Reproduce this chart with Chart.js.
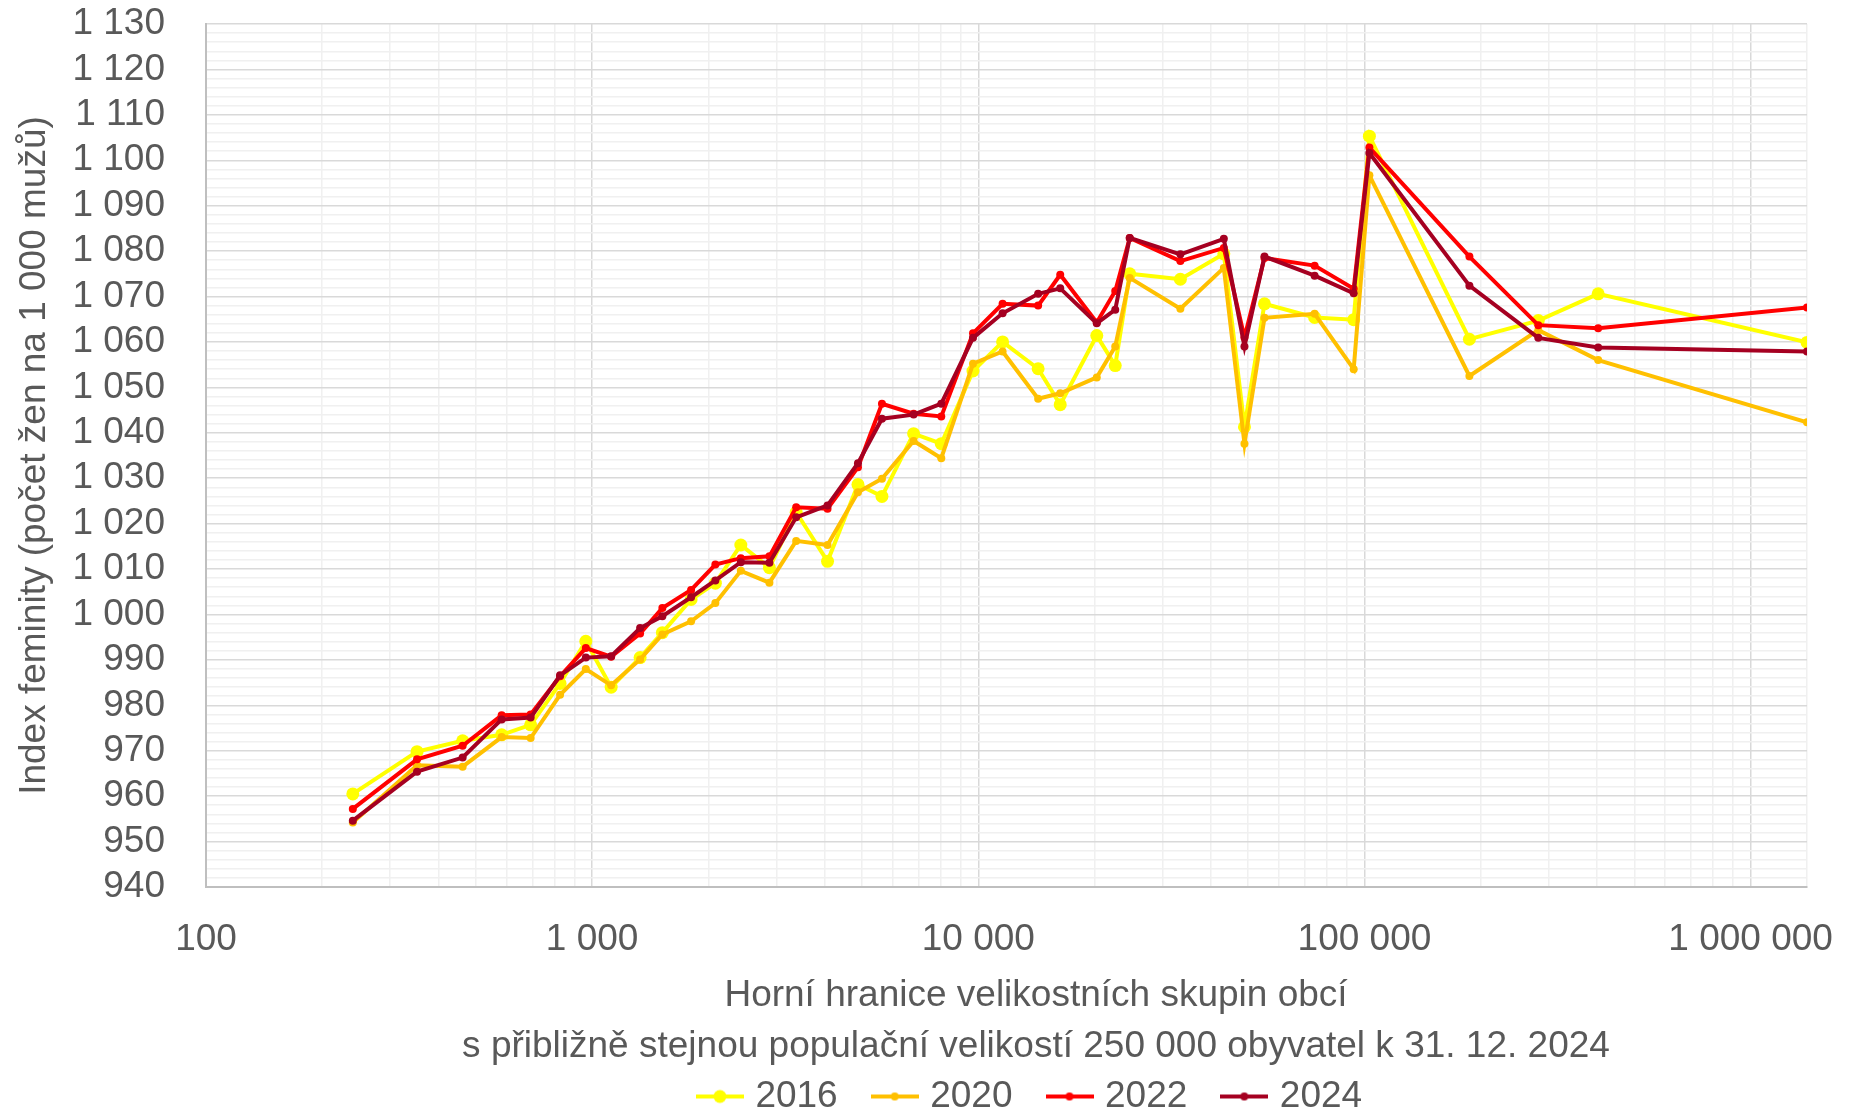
<!DOCTYPE html>
<html lang="cs">
<head>
    <meta charset="UTF-8">
    <title>Index feminity podle velikosti obcí</title>
    <script src="https://cdn.jsdelivr.net/npm/chart.js"></script>
    <style>
        body { margin: 0; background: #fff; }
        .chart-box { width: 1849px; height: 1115px; }
    </style>
</head>
<body>
    <div class="chart-box">
        <canvas id="chartFeminita"></canvas>
    </div>

    <script>
        // Horní hranice velikostních skupin obcí (osa x, logaritmická)
        const sizeLimits = [
            240, 352, 462, 583, 693, 826, 963, 1120, 1331, 1520,
            1804, 2085, 2427, 2878, 3376, 4070, 4880, 5630, 6800, 8020,
            9690, 11560, 14290, 16300, 20270, 22630, 24670, 33370, 43240, 48900,
            55100, 74300, 93800, 103000, 187000, 282000, 403000, 1400000
        ];

        // Index feminity (počet žen na 1 000 mužů)
        const values2016 = [
            960.5, 969.8, 972.2, 973.5, 975.7, 984.8, 994.1, 984.0, 990.5, 996.0,
            1003.3, 1006.9, 1015.3, 1010.3, 1022.5, 1011.7, 1028.6, 1026.0, 1039.8, 1037.6,
            1053.6, 1060.0, 1054.1, 1046.2, 1061.4, 1054.8, 1075.0, 1073.8, 1079.4, 1041.3,
            1068.4, 1065.4, 1064.9, 1105.3, 1060.6, 1064.7, 1070.6, 1059.9
        ];
        const values2020 = [
            954.2, 966.8, 966.5, 973.0, 972.8, 982.3, 988.0, 984.4, 990.1, 995.6,
            998.5, 1002.5, 1009.6, 1007.0, 1016.2, 1015.3, 1026.9, 1029.9, 1038.2, 1034.4,
            1055.2, 1057.9, 1047.5, 1048.7, 1052.2, 1059.0, 1074.1, 1067.3, 1076.3, 1037.6,
            1065.3, 1066.2, 1054.0, 1096.7, 1052.5, 1062.6, 1056.0, 1042.3
        ];
        const values2022 = [
            957.2, 968.1, 971.1, 977.8, 978.0, 986.4, 992.6, 990.7, 995.8, 1001.4,
            1005.4, 1011.0, 1012.4, 1012.8, 1023.6, 1023.3, 1032.4, 1046.4, 1044.2, 1043.6,
            1061.9, 1068.4, 1068.0, 1074.8, 1064.3, 1071.2, 1082.9, 1077.8, 1080.7, 1061.0,
            1078.5, 1076.8, 1071.7, 1102.8, 1078.8, 1063.7, 1063.0, 1067.6
        ];
        const values2024 = [
            954.6, 965.4, 968.5, 976.9, 977.3, 986.6, 990.5, 990.8, 997.0, 999.6,
            1003.8, 1007.5, 1011.5, 1011.4, 1021.4, 1024.0, 1033.3, 1043.1, 1044.0, 1046.4,
            1060.9, 1066.3, 1070.6, 1071.8, 1064.1, 1067.1, 1082.9, 1079.3, 1082.7, 1059.0,
            1078.8, 1074.6, 1070.7, 1101.6, 1072.4, 1060.9, 1058.8, 1057.9
        ];

        const years = ['2016', '2020', '2022', '2024'];
        const xMajorTicks = [100, 1000, 10000, 100000, 1000000];
        const yMajorTicks = [940, 950, 960, 970, 980, 990, 1000, 1010, 1020, 1030,
            1040, 1050, 1060, 1070, 1080, 1090, 1100, 1110, 1120, 1130];

        const yTitle = 'Index feminity (počet žen na 1 000 mužů)';
        const xTitleLines = [
            'Horní hranice velikostních skupin obcí',
            's přibližně stejnou populační velikostí 250 000 obyvatel k 31. 12. 2024'
        ];

        // Styly
        const series = [values2016, values2020, values2022, values2024];
        const colors = ['#FFFF00', '#FFC000', '#FF0000', '#A50021'];
        const pointSizes = [6.5, 4, 4, 4];
        const textColor = '#595959';
        const fontFamily = '"Liberation Sans", Arial, sans-serif';
        const fontSize = 37;

        Chart.defaults.font.family = fontFamily;
        Chart.defaults.color = textColor;

        function mezery(v) {
            return String(v).replace(/\B(?=(\d{3})+(?!\d))/g, ' ');
        }

        // ikonka do legendy: čára s bodem
        function legendIcon(color, r) {
            const c = document.createElement('canvas');
            c.width = 48;
            c.height = 16;
            const g = c.getContext('2d');
            g.strokeStyle = color;
            g.lineWidth = 4;
            g.beginPath();
            g.moveTo(0, 8);
            g.lineTo(48, 8);
            g.stroke();
            g.fillStyle = color;
            g.beginPath();
            g.arc(24, 8, r, 0, Math.PI * 2);
            g.fill();
            return c;
        }
        const icons = years.map((y, i) => legendIcon(colors[i], pointSizes[i]));

        // legenda a popis osy x jsou v originále posunuté doprava od středu grafu
        const legendShift = {
            id: 'legendShift',
            afterLayout(chart) {
                const l = chart.legend;
                l.left += 129;
                l.right += 129;
                l.top += 10;
                l.bottom += 10;
            }
        };

        const xAxisTitle = {
            id: 'xAxisTitle',
            afterDraw(chart) {
                const ctx = chart.ctx;
                ctx.save();
                ctx.font = fontSize + 'px ' + fontFamily;
                ctx.fillStyle = textColor;
                ctx.textAlign = 'center';
                ctx.textBaseline = 'middle';
                xTitleLines.forEach((line, i) => ctx.fillText(line, 1036, 996 + i * 51));
                ctx.restore();
            }
        };

        new Chart(document.getElementById('chartFeminita'), {
            type: 'line',
            data: {
                datasets: years.map((year, i) => ({
                    label: year,
                    data: sizeLimits.map((x, j) => ({ x: x, y: series[i][j] })),
                    borderColor: colors[i],
                    backgroundColor: colors[i],
                    borderWidth: 4,
                    pointRadius: pointSizes[i],
                    pointBorderWidth: 0,
                    tension: 0,
                    order: years.length - i
                }))
            },
            options: {
                responsive: true,
                maintainAspectRatio: false,
                animation: false,
                events: [],
                layout: { padding: { top: 24, right: 42, bottom: 0, left: 0 } },
                scales: {
                    x: {
                        type: 'logarithmic',
                        min: 100,
                        max: sizeLimits[sizeLimits.length - 1],
                        afterBuildTicks: scale => {
                            const ticks = [];
                            xMajorTicks.forEach(m => {
                                for (let k = 1; k < 10; k++) {
                                    if (m * k <= scale.max) ticks.push({ value: m * k });
                                }
                            });
                            ticks.push({ value: scale.max });
                            scale.ticks = ticks;
                        },
                        afterFit: scale => { scale.height = 141; },
                        ticks: {
                            autoSkip: false,
                            maxRotation: 0,
                            minRotation: 0,
                            padding: 0,
                            color: textColor,
                            font: { size: fontSize },
                            callback: v => xMajorTicks.includes(v) ? mezery(v) : ''
                        },
                        grid: {
                            drawTicks: true,
                            tickLength: 31,
                            tickColor: 'rgba(0,0,0,0)',
                            lineWidth: 1.5,
                            color: c => xMajorTicks.includes(c.tick && c.tick.value) ? '#d9d9d9' : '#f0f0f0'
                        },
                        border: { color: '#bfbfbf', width: 2 }
                    },
                    y: {
                        type: 'linear',
                        min: 940,
                        max: 1130,
                        afterBuildTicks: scale => {
                            const ticks = [];
                            for (let v = scale.min; v <= scale.max; v += 2) ticks.push({ value: v });
                            scale.ticks = ticks;
                        },
                        afterFit: scale => { scale.width = 206; },
                        ticks: {
                            autoSkip: false,
                            padding: 0,
                            color: textColor,
                            font: { size: fontSize },
                            callback: v => yMajorTicks.includes(v) ? mezery(v) : ''
                        },
                        grid: {
                            drawTicks: true,
                            tickLength: 41,
                            tickColor: 'rgba(0,0,0,0)',
                            lineWidth: 1.5,
                            color: c => yMajorTicks.includes(c.tick && c.tick.value) ? '#d9d9d9' : '#f0f0f0'
                        },
                        border: { color: '#bfbfbf', width: 2 },
                        title: {
                            display: true,
                            text: yTitle,
                            color: textColor,
                            font: { size: fontSize },
                            padding: { top: 13, bottom: 0 }
                        }
                    }
                },
                plugins: {
                    tooltip: { enabled: false },
                    legend: {
                        position: 'bottom',
                        labels: {
                            usePointStyle: true,
                            pointStyleWidth: 34,
                            padding: 40,
                            color: textColor,
                            font: { size: fontSize },
                            generateLabels: chart => {
                                const items = Chart.defaults.plugins.legend.labels.generateLabels(chart);
                                items.forEach(it => { it.pointStyle = icons[it.datasetIndex]; });
                                return items.sort((a, b) => a.datasetIndex - b.datasetIndex);
                            }
                        }
                    }
                }
            },
            plugins: [legendShift, xAxisTitle]
        });
    </script>
</body>
</html>
